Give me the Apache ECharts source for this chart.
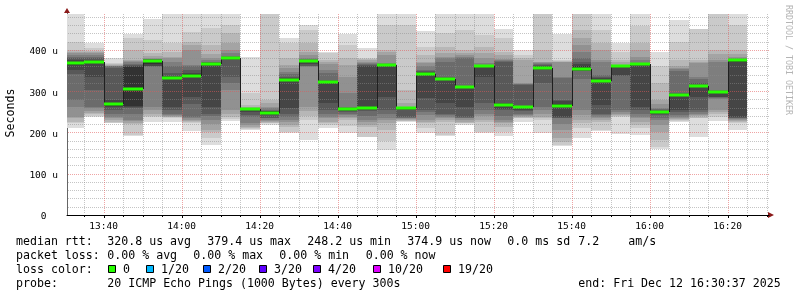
<!DOCTYPE html>
<html><head><meta charset="utf-8">
<script src="https://cdn.jsdelivr.net/npm/echarts@6/dist/echarts.min.js"></script>
<style>html,body{margin:0;padding:0;background:#fff}#c{width:797px;height:297px}</style>
</head><body><div id="c"></div>
<script>
// ---- data (values in microseconds) ----
const startTime = '13:30:37';
const endTime = '16:30:37';
const stepSeconds = 300;
const barTimes = ['13:30','13:35','13:40','13:45','13:50','13:55','14:00','14:05','14:10','14:15',
  '14:20','14:25','14:30','14:35','14:40','14:45','14:50','14:55','15:00','15:05',
  '15:10','15:15','15:20','15:25','15:30','15:35','15:40','15:45','15:50','15:55',
  '16:00','16:05','16:10','16:15','16:20'];
const medians = [368,372,268,305,374,331,338,365,379.4,256,248.2,327,373,323,256,259,364,259,342,329,
  310,360,266,261,356,265,355,324,360,367,250,290,313,298,374.9];
// 20 sorted ping round-trip times per step
const pings = [
  [210,222,226,234,238,263,279,343,352,364,372,376,380,384,388,392,396,400,420,500],
  [237,240,244,247,251,259,263,303,335,370,374,376,380,384,388,392,396,398,404,416],
  [222,224,226,230,234,238,246,255,263,265,271,279,356,360,361,362,364,366,368,381],
  [192,194,220,224,228,230,246,259,262,264,358,362,364,367,370,373,376,400,428,439],
  [226,238,240,246,255,263,358,360,362,366,376,376,377,378,379,380,386,392,424,474],
  [226,236,237,238,240,242,246,255,263,329,333,337,345,360,372,380,384,396,416,500],
  [204,222,226,228,230,234,238,270,287,336,341,345,352,360,364,400,412,420,444,500],
  [170,186,200,206,220,230,240,246,263,364,367,368,370,372,376,380,390,412,453,500],
  [229,232,238,246,255,303,320,335,376,377,381,382,384,386,392,400,416,440,461,487],
  [206,208,210,214,218,222,238,242,250,255,257,257,257,258,259,260,262,267,295,384],
  [218,222,224,226,228,230,234,236,242,244,251,252,253,255,259,263,271,279,490,500],
  [198,202,214,218,226,230,238,246,259,325,329,331,335,341,347,356,364,380,416,428],
  [182,230,240,251,263,358,360,362,366,372,374,375,376,378,380,388,396,416,448,461],
  [210,218,222,226,234,238,246,255,271,320,325,326,327,345,352,365,372,376,392,396],
  [198,215,230,234,238,242,246,250,252,254,258,259,260,263,295,335,364,380,412,438],
  [188,190,214,218,226,230,240,251,255,257,262,362,364,366,368,372,376,378,380,405],
  [158,180,206,222,230,234,246,255,287,362,365,365,366,367,368,388,396,400,461,500],
  [226,227,228,230,232,234,236,238,255,258,260,260,260,261,262,263,271,303,461,500],
  [198,210,222,226,230,242,250,255,283,340,344,346,348,352,360,368,372,388,408,447],
  [192,194,226,230,234,238,242,246,271,327,331,333,335,372,380,384,392,408,440,500],
  [218,222,224,226,230,234,236,238,263,309,311,312,313,380,384,388,392,400,448,500],
  [198,200,226,230,240,246,255,271,335,359,361,361,362,364,368,380,392,408,436,500],
  [192,200,214,222,226,230,240,255,257,264,268,271,372,374,376,378,388,396,428,452],
  [226,234,236,238,240,242,246,251,255,260,263,265,316,317,318,319,376,380,388,400],
  [198,230,234,238,246,255,263,319,352,354,358,360,364,366,368,370,372,400,490,500],
  [167,170,178,186,206,220,234,236,238,262,268,277,279,333,335,370,372,374,376,439],
  [186,210,222,230,242,255,330,348,350,352,360,366,372,380,396,412,430,448,490,500],
  [204,206,226,230,234,238,242,246,267,322,326,331,335,339,372,376,400,416,448,500],
  [196,238,240,242,246,250,255,337,339,358,360,361,361,362,363,364,372,376,396,416],
  [194,212,218,226,234,238,246,255,263,366,368,368,368,369,376,384,400,416,457,500],
  [159,165,182,200,218,230,236,242,244,248,251,253,255,256,259,270,279,319,360,396],
  [226,228,230,232,234,238,242,250,255,289,291,293,295,350,354,356,360,376,420,473],
  [190,234,236,240,242,246,250,255,287,311,315,316,320,330,335,368,372,376,450,452],
  [228,238,246,250,255,281,283,285,287,297,299,300,301,303,372,376,390,400,490,500],
  [206,224,226,228,230,232,234,236,238,372,376,376,377,378,380,384,390,400,461,500]
];
const xTickLabels = ['13:40','14:00','14:20','14:40','15:00','15:20','15:40','16:00','16:20'];
const yTickValues = [0,100,200,300,400];
const yMax = 487.27;

const legendRows = [
  {y:242, items:[['median rtt:',16],['320.8 us avg',107.3],['379.4 us max',207.3],['248.2 us min',307.3],['374.9 us now',407.3],['0.0 ms sd',507.3],['7.2',578.3],['am/s',628.3]]},
  {y:256, items:[['packet loss:',16],['0.00 % avg',107.3],['0.00 % max',193.3],['0.00 % min',279.3],['0.00 % now',365.7]]},
  {y:270, items:[['loss color:',16]]},
  {y:284, items:[['probe:',16],['20 ICMP Echo Pings (1000 Bytes) every 300s',107.3],['end: Fri Dec 12 16:30:37 2025',578.3]]}
];
const lossLabels = ['0','1/20','2/20','3/20','4/20','10/20','19/20'];
const lossColors = ['#26ff00','#00b8ff','#0059ff','#5e00ff','#7e00ff','#dd00ff','#ff0000'];
const lossBoxX = [108,146,203,259,313,373,443];

// ---- helpers ----
function toSec(s){const a=s.split(':').map(Number);return a[0]*3600+a[1]*60+(a[2]||0);}
function fmtHM(v){const h=Math.floor(v/3600),m=Math.round((v%3600)/60);return h+':'+(m<10?'0':'')+m;}
const T0 = toSec(startTime), T1 = toSec(endTime);
const FONT = 'DejaVu Sans Mono';

const barData = barTimes.map((t,k)=>[toSec(t), medians[k]]);

function clipX(cs,x){return Math.min(Math.max(x,cs.x),cs.x+cs.width);}
function renderSmoke(params, api){
  const k = params.dataIndex, cs = params.coordSys;
  const t0 = api.value(0), t1 = t0 + stepSeconds;
  const x0 = Math.round(clipX(cs, api.coord([t0,0])[0]));
  const x1 = Math.round(clipX(cs, api.coord([t1,0])[0]));
  if (x1 <= x0) return null;
  const p = pings[k], half = p.length/2, children = [];
  for (let ibot=1; ibot<=half; ibot++){
    const lo = p[ibot-1], hi = p[p.length-ibot];
    const yLo = Math.round(api.coord([t0,lo])[1]);
    const yHi = Math.round(Math.max(api.coord([t0,hi])[1], cs.y));
    const g = Math.floor(190/half*(half-ibot))+50;
    children.push({type:'rect', shape:{x:x0,y:yHi,width:x1-x0,height:Math.max(yLo-yHi,0)},
      style:{fill:'rgb('+g+','+g+','+g+')'}});
  }
  return {type:'group', children};
}
function renderMedian(params, api){
  const k = params.dataIndex, cs = params.coordSys;
  const t0 = api.value(0), t1 = t0 + stepSeconds;
  const x0 = Math.round(clipX(cs, api.coord([t0,0])[0]));
  const x1 = Math.round(clipX(cs, api.coord([t1,0])[0]));
  const y = Math.round(api.coord([t0, api.value(1)])[1]);
  const children = [];
  if (k+1 < medians.length){
    const yn = Math.round(api.coord([t0, medians[k+1]])[1]);
    children.push({type:'line', shape:{x1:x1+0.5,y1:y,x2:x1+0.5,y2:yn}, style:{stroke:'#202020',lineWidth:1}});
  }
  children.push({type:'rect', shape:{x:x0,y:y-1.5,width:x1-x0,height:3}, style:{fill:lossColors[0]}});
  return {type:'group', children};
}
// grid lines every 20 us and every 5 minutes
const hGridVals = []; for (let v=20; v<yMax; v+=20) hGridVals.push(v);
const vGridVals = []; for (let t=Math.ceil(T0/300)*300; t<=T1; t+=300) vGridVals.push(t);
const majorX = xTickLabels.map(toSec);
function renderHGrid(params, api){
  const cs = params.coordSys, v = api.value(0);
  const y = Math.round(api.coord([T0, v])[1]) + 0.5;
  const major = v % 100 === 0;
  return {type:'line', shape:{x1:cs.x+1,y1:y,x2:cs.x+cs.width,y2:y},
    style:{stroke: major?'rgba(225,90,90,0.55)':'rgba(140,140,140,0.5)', lineWidth:1, lineDash:[1,1]}};
}
function renderVGrid(params, api){
  const cs = params.coordSys, t = api.value(0);
  const x = Math.round(api.coord([t, 0])[0]) + 0.5;
  const major = majorX.indexOf(t) >= 0;
  const base = cs.y + cs.height;
  return {type:'group', children:[
    {type:'line', shape:{x1:x,y1:cs.y,x2:x,y2:base-1},
      style:{stroke: major?'rgba(225,90,90,0.55)':'rgba(140,140,140,0.5)', lineWidth:1, lineDash:[1,1]}},
    {type:'line', shape:{x1:x,y1:base,x2:x,y2:base+(major?3:2)}, style:{stroke:'#000',lineWidth:1}}
  ]};
}

// ---- graphic texts ----
const graphic = [];
legendRows.forEach(r=>r.items.forEach(it=>graphic.push({type:'text', x:it[1], y:r.y,
  style:{text:it[0], font:'11.6px "'+FONT+'"', fill:'#000', textVerticalAlign:'middle', textAlign:'left'}})));
lossLabels.forEach((l,i)=>{
  graphic.push({type:'rect', shape:{x:lossBoxX[i]+0.5,y:265.5,width:7,height:7}, style:{fill:lossColors[i], stroke:'#000', lineWidth:1}});
  graphic.push({type:'text', x:lossBoxX[i]+15, y:270, style:{text:l, font:'11.6px "'+FONT+'"', fill:'#000', textVerticalAlign:'middle'}});
});
graphic.push({type:'text', x:11, y:113, rotation:Math.PI/2,
  style:{text:'Seconds', font:'11.6px "'+FONT+'"', fill:'#000', textAlign:'center', textVerticalAlign:'middle'}});
graphic.push({type:'text', x:788, y:60, rotation:-Math.PI/2,
  style:{text:'RRDTOOL / TOBI OETIKER', font:'8.3px "'+FONT+'"', fill:'#b4b4b4', textAlign:'center', textVerticalAlign:'middle'}});
graphic.push({type:'polygon', shape:{points:[[64,13],[70,13],[67,8]]}, style:{fill:'#8b1a1a'}});
graphic.push({type:'polygon', shape:{points:[[768,212],[768,218],[774,215]]}, style:{fill:'#8b1a1a'}});
graphic.push({type:'line', shape:{x1:67.5,y1:13,x2:67.5,y2:14}, style:{stroke:'#666'}});

const chart = echarts.init(document.getElementById('c'), null, {renderer:'canvas'});
chart.setOption({
  animation:false,
  backgroundColor:'#fff',
  grid:{left:67, top:14, width:702, height:201, containLabel:false},
  xAxis:{type:'value', min:T0, max:T1,
    axisLine:{show:true, lineStyle:{color:'#000', width:1}},
    axisTick:{show:false}, splitLine:{show:false},
    axisLabel:{customValues:majorX, formatter:v=>fmtHM(v), fontFamily:FONT, fontSize:9.5, color:'#000', margin:7}},
  yAxis:{type:'value', min:0, max:yMax, interval:100,
    axisLine:{show:true, lineStyle:{color:'#666', width:1}},
    axisTick:{show:false}, splitLine:{show:false},
    axisLabel:{customValues:yTickValues, formatter:v=>'{a|'+(v===0?'0  ':v+' u')+'}', margin:9,
      rich:{a:{fontFamily:FONT, fontSize:9.5, color:'#000', padding:[4,0,0,0]}}}},
  series:[
    {type:'custom', z:2, renderItem:renderSmoke, data:barData, encode:{x:0,y:1}, clip:true, silent:true},
    {type:'custom', z:3, renderItem:renderHGrid, data:hGridVals.map(v=>[v]), silent:true},
    {type:'custom', z:3, renderItem:renderVGrid, data:vGridVals.map(v=>[v]), silent:true},
    {type:'custom', z:4, renderItem:renderMedian, data:barData, encode:{x:0,y:1}, clip:true, silent:true}
  ],
  graphic:graphic
});
</script></body></html>
